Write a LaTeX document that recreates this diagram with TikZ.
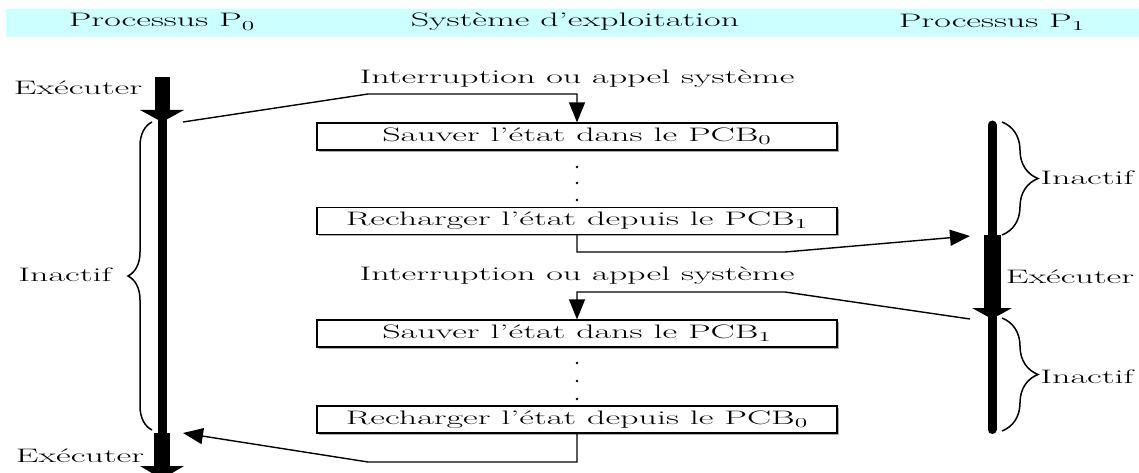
\documentclass[tikz,border=0pt]{standalone}
\usepackage{graphicx}
\usetikzlibrary{arrows.meta,decorations.pathreplacing,shadows}
\definecolor{band}{RGB}{204,255,255}
% wide lettering used throughout the figure
\newcommand{\widetxt}[1]{\scalebox{1.85}[1]{#1}}
\tikzset{
  lbl/.style={inner sep=0pt, font=\fontsize{19.5}{22}\selectfont},
  procbox/.style={draw, line width=1.2pt, fill=white, minimum width=520pt,
    minimum height=27pt, inner sep=0pt, font=\fontsize{19.5}{22}\selectfont,
    drop shadow={shadow xshift=1.6pt, shadow yshift=-1.6pt, opacity=0.55, fill=black!60}},
  conn/.style={line width=1.4pt},
  tipped/.style={conn, -{Triangle[width=16pt,length=20pt]}},
  lbrace/.style={line width=1.5pt, decorate, decoration={brace, amplitude=24pt}},
  rbrace/.style={line width=1.5pt, decorate, decoration={brace, amplitude=36pt}},
}
\begin{document}
\begin{tikzpicture}[x=1pt, y=-1pt]
\useasboundingbox (0,0) rectangle (1139,473);
\clip (0,0) rectangle (1139,473);

% column headings
\fill[band] (6,9) rectangle (1139,37);
\node[lbl] (h0) at (162,22) {\widetxt{Processus P\textsubscript{0}}};
\node[lbl] (hs) at (575,22) {\widetxt{Système d’exploitation}};
\node[lbl] (h1) at (992,22) {\widetxt{Processus P\textsubscript{1}}};

% timeline of P0
\fill (154.5,77) rectangle (169.5,111);
\fill (140,110) -- (184,110) -- (162,122) -- cycle;
\fill (158,118) rectangle (166.5,434);
\fill (154,433) rectangle (170,467);
\fill (140,466) -- (184,466) -- (162,479) -- cycle;

% timeline of P1
\draw[line width=9pt, line cap=round] (992,125) -- (992,236);
\fill (983.5,235) rectangle (1000.5,309);
\fill (972,308) -- (1012,308) -- (992,319) -- cycle;
\draw[line width=9pt, line cap=round] (992,316) -- (992,429.5);

% labels of P0
\node[lbl] (e0a) at (78,88) {\widetxt{Exécuter}};
\node[lbl] (e0b) at (80,456) {\widetxt{Exécuter}};
\draw[lbrace] (152,430) -- (152,122);
\node[lbl] (in0) at (65,275) {\widetxt{Inactif}};

% labels of P1
\draw[rbrace] (1002,122) -- (1002,235);
\draw[rbrace] (1002,318) -- (1002,431);
\node[lbl] (in1a) at (1087,178) {\widetxt{Inactif}};
\node[lbl] (e1) at (1070,277) {\widetxt{Exécuter}};
\node[lbl] (in1b) at (1087,377) {\widetxt{Inactif}};

% kernel steps
\node[lbl] (i1) at (577,79) {\widetxt{Interruption ou appel système}};
\node[procbox] (b1) at (577,136.5) {\widetxt{Sauver l’état dans le PCB\textsubscript{0}}};
\node[procbox] (b2) at (577,221) {\widetxt{Recharger l’état depuis le PCB\textsubscript{1}}};
\node[lbl] (i2) at (577,276) {\widetxt{Interruption ou appel système}};
\node[procbox] (b3) at (577,333.5) {\widetxt{Sauver l’état dans le PCB\textsubscript{1}}};
\node[procbox] (b4) at (577,419.5) {\widetxt{Recharger l’état depuis le PCB\textsubscript{0}}};

% elided steps
\foreach \yy in {167,183,200,363,381,399}
  \fill (577,\yy) circle (1.3);

% switch points on the timelines and bends of the connectors
\coordinate (p0a) at (183,122);
\coordinate (p0b) at (183,433);
\coordinate (p1a) at (970,236);
\coordinate (p1b) at (970,319);
\coordinate (k1) at (368,94);
\coordinate (k2) at (785,252);
\coordinate (k3) at (785,292);
\coordinate (k4) at (368,462);

\draw[tipped] (p0a) -- (k1) -| (b1.north);
\draw[tipped] (b2.south) |- (k2) -- (p1a);
\draw[tipped] (p1b) -- (k3) -| (b3.north);
\draw[tipped] (b4.south) |- (k4) -- (p0b);
\end{tikzpicture}
\end{document}
